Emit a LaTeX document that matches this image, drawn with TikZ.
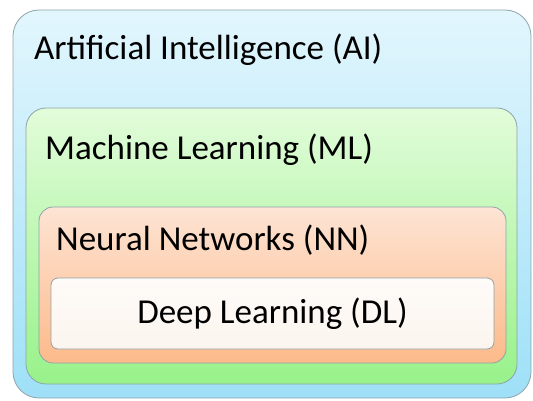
\documentclass[tikz,border=0pt]{standalone}
\usepackage{fontspec}
\setmainfont{Carlito}
\usepackage{tikz}

\definecolor{aioben}{HTML}{E2F6FD}
\definecolor{aiunten}{HTML}{9EE0F8}
\definecolor{mloben}{HTML}{E2FCDA}
\definecolor{mlunten}{HTML}{98F28A}
\definecolor{nnoben}{HTML}{FDE4D4}
\definecolor{nnunten}{HTML}{FCBA8A}
\definecolor{dloben}{HTML}{FEFBF8}
\definecolor{dlunten}{HTML}{FCF5EF}
\definecolor{rand}{HTML}{8FA3AA}

\begin{document}
\begin{tikzpicture}[x=1pt, y=-1pt,
    kasten/.style={draw=rand, line width=0.8pt, inner sep=0pt, outer sep=0pt},
    titel/.style={anchor=base west, inner sep=0pt, font=\fontsize{35}{40}\selectfont}]

        \useasboundingbox (0,0) rectangle (533,401);

        % Kaesten
        \node [kasten, rounded corners=26pt, top color=aioben, bottom color=aiunten,
               minimum width=518pt, minimum height=388pt] (ai) at (272,204) {};
        \node [kasten, rounded corners=20pt, top color=mloben, bottom color=mlunten,
               minimum width=491pt, minimum height=276pt] (ml) at (271.5,246) {};
        \node [kasten, rounded corners=14pt, top color=nnoben, bottom color=nnunten,
               minimum width=467pt, minimum height=156pt] (nn) at (272.5,285) {};
        \node [kasten, rounded corners=7pt, top color=dloben, bottom color=dlunten,
               minimum width=443pt, minimum height=71pt] (dl) at (272.5,313.5) {};

        % Beschriftungen
        \node [titel] (aitext) at (34,60) {Artificial Intelligence (AI)};
        \node [titel] (mltext) at (45,160) {Machine Learning (ML)};
        \node [titel] (nntext) at (56,250) {Neural Networks (NN)};
        \node [titel, anchor=base] (dltext) at (dl.center |- 0,323) {Deep Learning (DL)};

\end{tikzpicture}
\end{document}
